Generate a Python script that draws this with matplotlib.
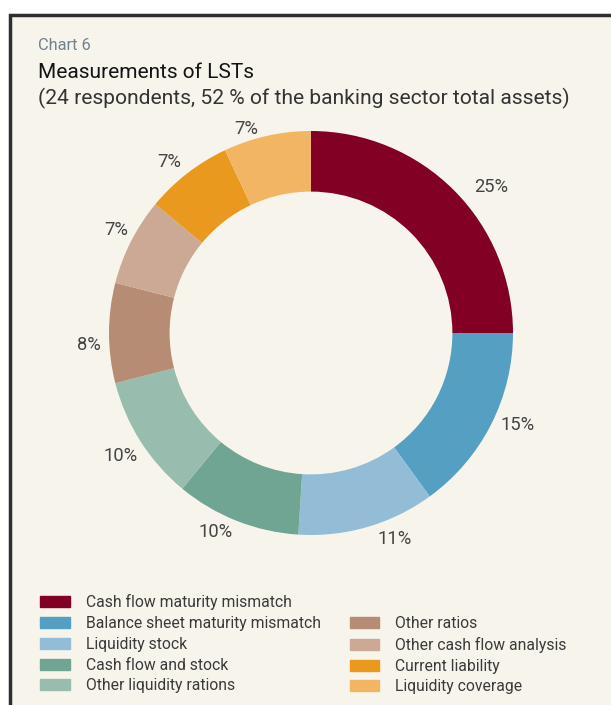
import matplotlib
matplotlib.use("Agg")
import matplotlib.pyplot as plt
import matplotlib.patches as mpatches
import numpy as np

plt.rcParams['font.family'] = ['Roboto', 'DejaVu Sans']

# Data
categories = [
    'Cash flow maturity mismatch',
    'Balance sheet maturity mismatch',
    'Liquidity stock',
    'Cash flow and stock',
    'Other liquidity rations',
    'Other ratios',
    'Other cash flow analysis',
    'Current liability',
    'Liquidity coverage',
]
shares = [25, 15, 11, 10, 10, 8, 7, 7, 7]
colors = ['#820024', '#549fc2', '#93bcd6', '#70a593', '#98bdae',
          '#b68d74', '#cba995', '#e8991e', '#f2b564']

# small placement tweaks for the percent labels (angle in degrees, radius)
label_turn = [-6, 3, 6, -4, 0.5, 3, -1, 1.7, 5]
label_dist = [1.15, 1.12, 1.10, 1.09, 1.12, 1.10, 1.09, 1.10, 1.06]

BG = '#f7f4ec'
TXT = '#3a3a3a'

fig = plt.figure(figsize=(6.11, 7.05), dpi=100)
fig.patch.set_facecolor('white')

# framed panel (runs off the right and bottom edges)
W, H = 611, 705
frame = mpatches.Rectangle((9.5 / W, -0.2), 1.2, 1.2 - 14.5 / H, transform=fig.transFigure,
                           facecolor=BG, edgecolor='#2e2e2e', linewidth=2.5, zorder=-5)
fig.patches.append(frame)

# titles
fig.text(38 / W, 1 - 50 / H, 'Chart 6', fontsize=11.8, color='#6f8290', va='baseline')
fig.text(38 / W, 1 - 78 / H, 'Measurements of LSTs', fontsize=15, color='#141414',
         va='baseline')
fig.text(38 / W, 1 - 104 / H, '(24 respondents, 52 % of the banking sector total assets)',
         fontsize=15.1, color='#333333', va='baseline')

# donut
cx, cy, r = 311, 705 - 333, 202
ax = fig.add_axes([(cx - r) / W, (cy - r) / H, 2 * r / W, 2 * r / H])
ax.set_facecolor('none')
wedges, _ = ax.pie(shares, colors=colors, startangle=90, counterclock=False, radius=1,
                   wedgeprops=dict(width=0.3, edgecolor='none'))
ax.set_xlim(-1, 1)
ax.set_ylim(-1, 1)
ax.set_aspect('equal')
ax.axis('off')

for w, v, dt, d in zip(wedges, shares, label_turn, label_dist):
    ang = np.deg2rad((w.theta1 + w.theta2) / 2 + dt)
    ax.text(d * np.cos(ang), d * np.sin(ang), f'{v}%', ha='center', va='center',
            fontsize=13.2, color='#444444')

# legend: blank slot so the second column lines up at the bottom
handles = [mpatches.Patch(color=c) for c in colors]
labels = list(categories)
blank = mpatches.Patch(color='none')
handles = handles[:5] + [blank] + handles[5:]
labels = labels[:5] + [''] + labels[5:]
leg = fig.legend(handles, labels, ncol=2, loc='upper left',
                 bbox_to_anchor=(26 / W, 1 - 580 / H), frameon=False,
                 fontsize=11.3, labelcolor=TXT, handlelength=1.9, handleheight=0.7,
                 handletextpad=1.0, labelspacing=0.37, columnspacing=1.85)

fig.savefig('out.png', dpi=100, facecolor=fig.get_facecolor())
